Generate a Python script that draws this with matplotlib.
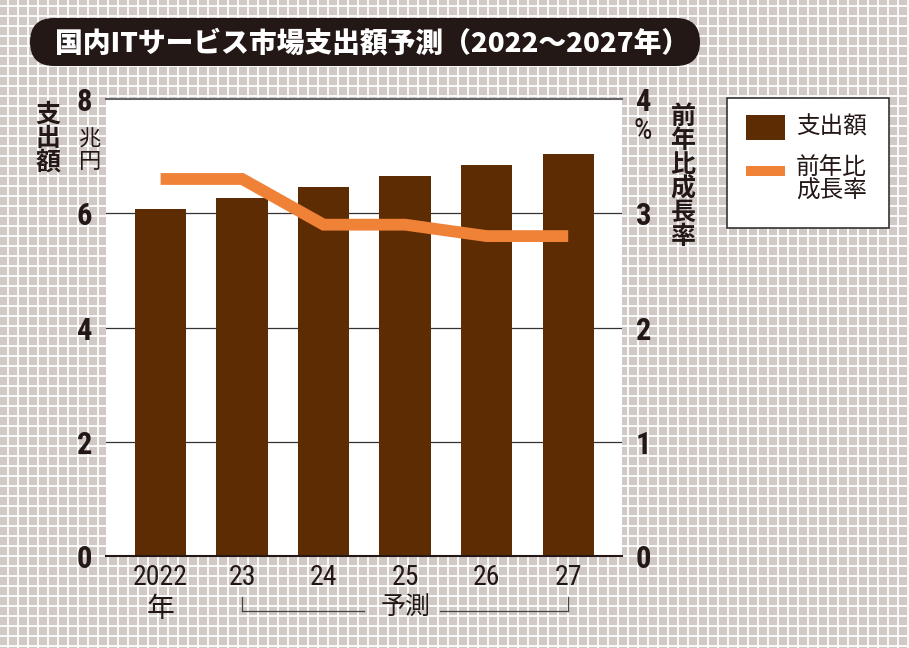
import matplotlib
matplotlib.use("Agg")
import matplotlib.pyplot as plt
from matplotlib import font_manager
from matplotlib.patches import FancyBboxPatch, Rectangle
from matplotlib.lines import Line2D

plt.rcParams['font.family'] = ['Noto Sans CJK JP', 'DejaVu Sans']

# data
years = ['2022\n年', '23', '24', '25', '26', '27']
spending = [6.08, 6.27, 6.46, 6.65, 6.84, 7.03]   # 兆円
growth = [3.3, 3.3, 2.9, 2.9, 2.8, 2.8]           # %
left_ticks = [0, 2, 4, 6, 8]
right_ticks = [0, 1, 2, 3, 4]

BROWN = '#5e2c02'
ORANGE = '#ef8236'
INK = '#231815'

# pick a narrow face for the numbers, if one is installed
installed = {(f.name, str(f.stretch)) for f in font_manager.fontManager.ttflist}
names = {n for n, _ in installed}
NUM_FONT, NUM_STRETCH = 'Roboto', 'normal'
if 'Liberation Sans Narrow' in names:
    NUM_FONT = 'Liberation Sans Narrow'
elif 'Roboto Condensed' in names:
    NUM_FONT = 'Roboto Condensed'
elif ('DejaVu Sans', 'condensed') in installed or ('DejaVu Sans', 'semi-condensed') in installed:
    NUM_FONT, NUM_STRETCH = 'DejaVu Sans', 'condensed'

W, H = 909, 648
fig = plt.figure(figsize=(W / 100, H / 100), dpi=100)


def fx(x):
    return x / W


def fy(y):
    return 1 - y / H


# graph paper background
bg = fig.add_axes([0, 0, 1, 1], zorder=0)
bg.set_xlim(0, W)
bg.set_ylim(H, 0)
bg.axis('off')
bg.add_patch(Rectangle((0, 0), W, H, color='#d0c9c6', zorder=0))
for x in range(8, W, 10):
    bg.axvline(x, color='white', lw=1.3, zorder=1)
for y in range(6, H, 10):
    bg.axhline(y, color='white', lw=1.3, zorder=1)

# title pill
bg.add_patch(FancyBboxPatch((30, 18), 670, 48, boxstyle='round,pad=0,rounding_size=24',
                            fc='#231815', ec='none', zorder=2))
bg.text(372, 43, '国内ITサービス市場支出額予測（2022～2027年）', color='white',
        fontsize=20, fontweight='heavy', ha='center', va='center', zorder=3)

# legend box
bg.add_patch(Rectangle((727, 98), 162, 130, fc='white', ec='#333333', lw=1.2, zorder=2))
bg.add_patch(Rectangle((746, 115), 39, 25, fc=BROWN, ec='none', zorder=3))
bg.add_patch(Rectangle((746, 166), 39, 10, fc=ORANGE, ec='none', zorder=3))
bg.text(796, 127, '支出額', fontsize=17, color=INK, va='center', zorder=3)
bg.text(796, 179, '前年比\n成長率', fontsize=17, color=INK, va='center',
        linespacing=1.05, zorder=3)

# main axes
x0, x1, y0, y1 = 106, 622, 99, 556
ax = fig.add_axes([fx(x0), fy(y1), fx(x1 - x0), (y1 - y0) / H], zorder=2)
ax.set_facecolor('white')
xs = list(range(len(years)))
ax.bar(xs, spending, width=0.63, color=BROWN, zorder=3)
ax.set_xlim(-0.67, 5.66)
ax.set_ylim(0, 8)
ax.set_yticks(left_ticks)
ax.set_yticklabels([str(t) for t in left_ticks], fontweight='bold', fontsize=22, color=INK)
ax.set_xticks(xs)
ax.set_xticklabels(years, fontsize=20, color=INK, linespacing=1.2)
ax.tick_params(axis='both', length=0)
ax.tick_params(axis='y', pad=10)
ax.tick_params(axis='x', pad=6)
for s in ['left', 'right']:
    ax.spines[s].set_visible(False)
ax.spines['top'].set_color('#666666')
ax.spines['top'].set_linewidth(1.5)
ax.spines['bottom'].set_color('#231815')
ax.spines['bottom'].set_linewidth(1.5)
ax.spines['bottom'].set_zorder(4)
for y in [2, 4, 6]:
    ax.axhline(y, color='#333333', lw=0.9, zorder=1)

ax2 = ax.twinx()
ax2.plot(xs, growth, color=ORANGE, lw=8.5, solid_joinstyle='miter',
         solid_capstyle='butt', zorder=5)
ax2.set_ylim(0, 4)
ax2.set_yticks(right_ticks)
ax2.set_yticklabels([str(t) for t in right_ticks], fontweight='bold', fontsize=22, color=INK)
ax2.tick_params(axis='y', length=0, pad=10)
for s in ['left', 'right', 'top', 'bottom']:
    ax2.spines[s].set_visible(False)

num_labels = ax.get_yticklabels() + ax2.get_yticklabels()
for t in num_labels + ax.get_xticklabels():
    t.set_family([NUM_FONT, 'Noto Sans CJK JP'])
    t.set_fontstretch(NUM_STRETCH)

# axis titles and units
fig.text(fx(48), fy(139), '支\n出\n額', fontsize=18, fontweight='bold', color=INK,
         ha='center', va='center', linespacing=1.0)
fig.text(fx(90), fy(150), '兆\n円', fontsize=16, color=INK, ha='center', va='center',
         linespacing=0.95)
fig.text(fx(643), fy(131), '%', fontsize=21, color=INK, ha='center', va='center',
         family=[NUM_FONT], fontstretch=NUM_STRETCH)
fig.text(fx(683), fy(177), '前\n年\n比\n成\n長\n率', fontsize=18, fontweight='bold',
         color=INK, ha='center', va='center', linespacing=1.0)

# forecast bracket
fig.text(fx(406), fy(608), '予測', fontsize=18, color=INK, ha='center', va='center')
ly = fy(611)
bx0 = ax.transData.transform((1, 0))[0] / W
bx1 = ax.transData.transform((5, 0))[0] / W
for a, b in [(bx0, fx(364)), (fx(440), bx1)]:
    fig.add_artist(Line2D([a, b], [ly, ly], color='#444444', lw=0.9))
for b in [bx0, bx1]:
    fig.add_artist(Line2D([b, b], [ly, fy(597)], color='#444444', lw=0.9))

fig.savefig('out.png', dpi=100)
